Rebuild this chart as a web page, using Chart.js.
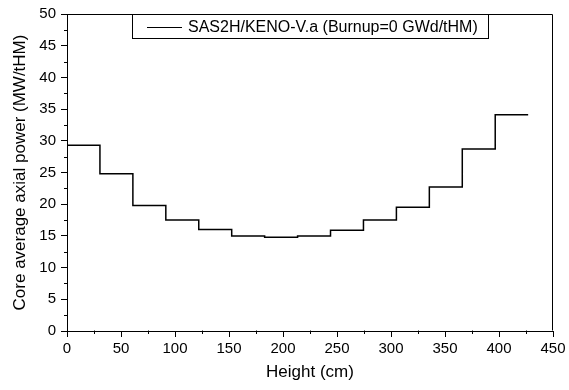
<!DOCTYPE html>
<html><head><meta charset="utf-8">
<script src="https://cdn.jsdelivr.net/npm/chart.js@4.4.1/dist/chart.umd.min.js"></script>
<style>html,body{margin:0;padding:0;background:#fff}#wrap{width:569px;height:390px;position:relative}</style>
</head><body><div id="wrap"><canvas id="c"></canvas></div>
<script>
// Segment edges (cm) and core-average axial power per segment (MW/tHM)
const edges = [0, 30.5, 61, 91.5, 122, 152.5, 183, 213.5, 244, 274.5, 305, 335.5, 366, 396.5, 427];
const power = [29.3, 24.8, 19.8, 17.5, 16.0, 15.0, 14.8, 15.0, 15.9, 17.5, 19.5, 22.7, 28.7, 34.1];
const seriesLabel = 'SAS2H/KENO-V.a (Burnup=0 GWd/tHM)';
const xTitle = 'Height (cm)';
const yTitle = 'Core average axial power (MW/tHM)';
const xRange = [0, 450];
const yRange = [0, 50];
const xMajor = 50, xMinor = 25;
const yMajor = 5, yMinor = 2.5;

const FONT = '"Liberation Sans", Arial, Helvetica, sans-serif';
const points = edges.map((e, i) => ({x: e, y: power[Math.min(i, power.length - 1)]}));

const frameAndMinor = {
  id: 'frameAndMinor',
  afterDraw(chart) {
    const {ctx, chartArea: a, scales} = chart;
    ctx.save();
    ctx.strokeStyle = '#000';
    ctx.lineWidth = 1;
    // frame (top & right)
    const L = Math.round(a.left) + 0.5, R = Math.round(a.right) - 0.5;
    const T = Math.round(a.top) + 0.5, B = Math.round(a.bottom) - 0.5;
    ctx.beginPath();
    ctx.moveTo(L, T); ctx.lineTo(R, T); ctx.lineTo(R, B);
    ctx.stroke();
    // minor ticks
    ctx.beginPath();
    for (let v = xRange[0] + xMinor; v < xRange[1]; v += xMajor) {
      const px = Math.round(scales.x.getPixelForValue(v)) + 0.5;
      ctx.moveTo(px, B); ctx.lineTo(px, B + 3.5);
    }
    for (let v = yRange[0] + yMinor; v < yRange[1]; v += yMajor) {
      const py = Math.round(scales.y.getPixelForValue(v)) + 0.5;
      ctx.moveTo(L, py); ctx.lineTo(L - 3.5, py);
    }
    ctx.stroke();
    // legend box
    const bx = 132.5, by = T, bw = 356, bh = 24;
    ctx.fillStyle = '#fff';
    ctx.fillRect(bx, by, bw, bh);
    ctx.strokeRect(bx, by, bw, bh);
    const ds = chart.data.datasets[0];
    const ly = by + bh / 2;
    ctx.beginPath();
    ctx.strokeStyle = ds.borderColor;
    ctx.lineWidth = 1;
    ctx.moveTo(147, Math.round(ly) + 0.5); ctx.lineTo(182, Math.round(ly) + 0.5);
    ctx.stroke();
    ctx.fillStyle = '#000';
    ctx.font = '16px ' + FONT;
    ctx.textBaseline = 'middle';
    ctx.textAlign = 'left';
    ctx.fillText(ds.label, 188, ly + 1);
    ctx.restore();
  }
};

new Chart(document.getElementById('c'), {
  type: 'line',
  data: {
    datasets: [{
      label: seriesLabel,
      data: points,
      stepped: 'before',
      borderColor: '#000',
      borderWidth: 1.5,
      pointRadius: 0,
      fill: false
    }]
  },
  options: {
    responsive: true,
    maintainAspectRatio: false,
    animation: false,
    devicePixelRatio: 1,
    layout: {padding: {left: 0, top: 14, right: 16, bottom: 0}},
    plugins: {legend: {display: false}, tooltip: {enabled: false}},
    scales: {
      x: {
        type: 'linear', min: xRange[0], max: xRange[1],
        afterFit(s) { s.height = 59; },
        ticks: {stepSize: xMajor, autoSkip: false, maxRotation: 0, color: '#000', padding: 3,
                font: {family: FONT, size: 15}},
        grid: {drawOnChartArea: false, drawTicks: true, tickLength: 6, tickColor: '#000', tickWidth: 1},
        border: {display: true, color: '#000', width: 1},
        title: {display: true, text: xTitle, color: '#000', font: {family: FONT, size: 17}, padding: {top: 0, bottom: 7}}
      },
      y: {
        type: 'linear', min: yRange[0], max: yRange[1],
        afterFit(s) { s.width = 67; },
        ticks: {stepSize: yMajor, autoSkip: false, color: '#000', padding: 5,
                font: {family: FONT, size: 15}},
        grid: {drawOnChartArea: false, drawTicks: true, tickLength: 6, tickColor: '#000', tickWidth: 1},
        border: {display: true, color: '#000', width: 1},
        title: {display: true, text: yTitle, color: '#000', font: {family: FONT, size: 17}, padding: {top: 10, bottom: 0}}
      }
    }
  },
  plugins: [frameAndMinor]
});
</script>
</body></html>
